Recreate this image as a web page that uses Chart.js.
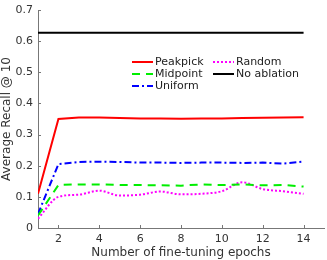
<!DOCTYPE html>
<html>
<head>
<meta charset="utf-8">
<script src="https://cdn.jsdelivr.net/npm/chart.js@4/dist/chart.umd.min.js"></script>
<style>
  html, body { margin: 0; padding: 0; background: #fff; }
  #wrap { width: 327px; height: 260px; }
</style>
</head>
<body>
<div id="wrap"><canvas id="grafico" width="327" height="260"></canvas></div>
<script>
const epocas = [1, 2, 3, 4, 5, 6, 7, 8, 9, 10, 11, 12, 13, 14]
const peakpick = [0.11, 0.35, 0.355, 0.355, 0.353, 0.352, 0.352, 0.351, 0.352, 0.352, 0.353, 0.354, 0.355, 0.356]
const midpoint = [0.04, 0.138, 0.14, 0.14, 0.138, 0.138, 0.137, 0.136, 0.14, 0.138, 0.14, 0.137, 0.138, 0.133]
const uniform = [0.045, 0.205, 0.212, 0.213, 0.212, 0.21, 0.21, 0.209, 0.21, 0.21, 0.209, 0.21, 0.207, 0.213]
const random = [0.03, 0.1, 0.107, 0.12, 0.104, 0.107, 0.117, 0.108, 0.11, 0.118, 0.147, 0.125, 0.118, 0.11]
const noAblation = [0.627, 0.627, 0.627, 0.627, 0.627, 0.627, 0.627, 0.627, 0.627, 0.627, 0.627, 0.627, 0.627, 0.627]
const ticksX = [2, 4, 6, 8, 10, 12, 14]
const ticksY = [0, 0.1, 0.2, 0.3, 0.4, 0.5, 0.6, 0.7]

const fonte = 'DejaVu Sans'

function serie(label, valores, cor, traco, suave){
    return {
        label: label,
        data: epocas.map((e, i) => ({ x: e, y: valores[i] })),
        borderColor: cor,
        backgroundColor: cor,
        borderWidth: 2,
        borderDash: traco,
        pointRadius: 0,
        tension: suave ? 0.4 : 0,
        cubicInterpolationMode: suave ? 'monotone' : 'default',
        fill: false
    }
}

// marcas dos eixos voltadas para dentro
const marcasInternas = {
    id: 'marcasInternas',
    afterDraw(chart){
        const ctx = chart.ctx
        const area = chart.chartArea
        const sx = chart.scales.x
        const sy = chart.scales.y
        ctx.save()
        ctx.strokeStyle = '#777'
        ctx.lineWidth = 1
        ctx.beginPath()
        ticksX.forEach(v => {
            const px = Math.round(sx.getPixelForValue(v)) + 0.5
            ctx.moveTo(px, area.bottom)
            ctx.lineTo(px, area.bottom - 3)
        })
        ticksY.forEach(v => {
            const py = Math.round(sy.getPixelForValue(v)) + 0.5
            ctx.moveTo(area.left, py)
            ctx.lineTo(area.left + 3, py)
        })
        ctx.stroke()
        ctx.restore()
    }
}

// legenda desenhada dentro da area do grafico, em duas colunas
const legendaInterna = {
    id: 'legendaInterna',
    afterDraw(chart){
        const ctx = chart.ctx
        const itens = [
            { i: 0, x: 132, y: 62 },
            { i: 1, x: 132, y: 74 },
            { i: 2, x: 132, y: 86 },
            { i: 3, x: 213, y: 62 },
            { i: 4, x: 213, y: 74 }
        ]
        ctx.save()
        ctx.font = '11px ' + fonte
        ctx.textBaseline = 'middle'
        itens.forEach(it => {
            const ds = chart.data.datasets[it.i]
            ctx.strokeStyle = ds.borderColor
            ctx.lineWidth = 2
            ctx.setLineDash(ds.borderDash || [])
            ctx.beginPath()
            ctx.moveTo(it.x, it.y)
            ctx.lineTo(it.x + 21, it.y)
            ctx.stroke()
            ctx.setLineDash([])
            ctx.fillStyle = '#222'
            ctx.fillText(ds.label, it.x + 23, it.y)
        })
        ctx.restore()
    }
}

const gradeInvisivel = { drawOnChartArea: false, drawTicks: true, tickLength: 3, color: 'rgba(0,0,0,0)' }

const grafico = new Chart(document.getElementById('grafico'), {
    type: 'line',
    data: {
        datasets: [
            serie('Peakpick', peakpick, '#ff0000', [], false),
            serie('Midpoint', midpoint, '#00ee00', [8, 6], false),
            serie('Uniform', uniform, '#0000ff', [7, 3, 2, 3], false),
            serie('Random', random, '#ff00ff', [2, 2], true),
            serie('No ablation', noAblation, '#000000', [], false)
        ]
    },
    options: {
        responsive: false,
        animation: false,
        layout: { padding: { top: 10, right: 3, left: 0, bottom: 0 } },
        plugins: {
            legend: { display: false },
            tooltip: { enabled: false }
        },
        scales: {
            x: {
                type: 'linear',
                min: 1,
                max: 15,
                afterBuildTicks: (escala) => { escala.ticks = ticksX.map(v => ({ value: v })) },
                afterFit: (escala) => { escala.height = 32 },
                border: { color: '#777', width: 1 },
                grid: gradeInvisivel,
                ticks: { color: '#333', font: { family: fonte, size: 11 }, padding: 2, maxRotation: 0 },
                title: { display: true, text: 'Number of fine-tuning epochs', color: '#333', font: { family: fonte, size: 12 }, padding: { top: 0, bottom: 0 } }
            },
            y: {
                min: 0,
                max: 0.7,
                afterBuildTicks: (escala) => { escala.ticks = ticksY.map(v => ({ value: v })) },
                afterFit: (escala) => { escala.width = 38 },
                border: { color: '#777', width: 1 },
                grid: gradeInvisivel,
                ticks: { color: '#333', font: { family: fonte, size: 11 }, padding: 2,
                    callback: (v) => v === 0 ? '0' : v.toFixed(1) },
                title: { display: true, text: 'Average Recall @ 10', color: '#333', font: { family: fonte, size: 12 }, padding: { top: 0, bottom: 0 } }
            }
        }
    },
    plugins: [marcasInternas, legendaInterna]
})
</script>
</body>
</html>
